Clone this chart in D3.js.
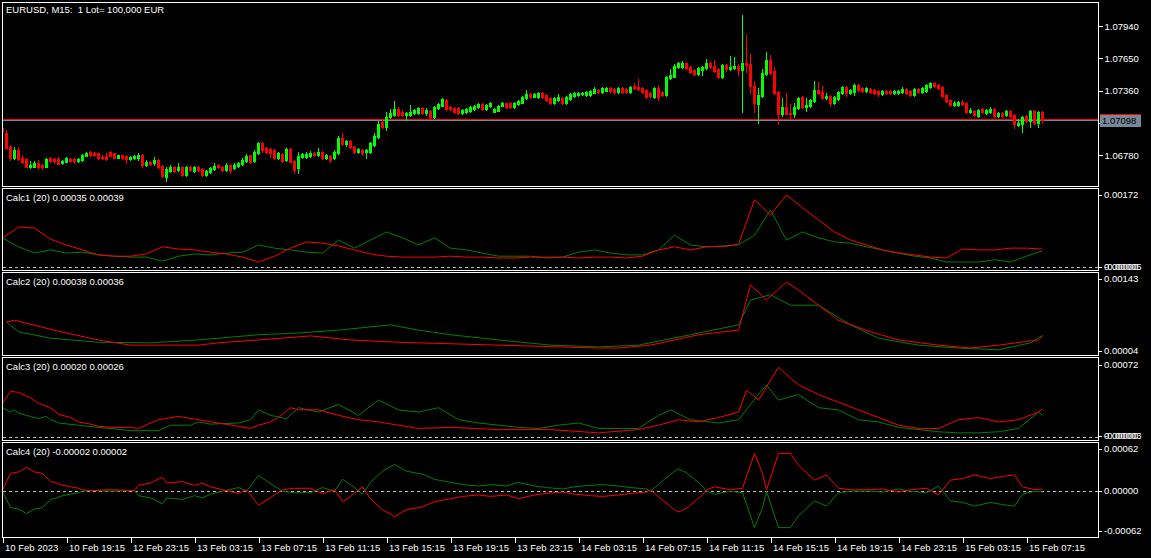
<!DOCTYPE html>
<html><head><meta charset="utf-8">
<script src="https://cdn.jsdelivr.net/npm/d3@7"></script>
<style>html,body{margin:0;padding:0;background:#000;overflow:hidden}svg{display:block}text{white-space:pre}</style>
</head><body>
<svg id="c" width="1151" height="558"></svg>
<script>
// ---------------- DATA ----------------
const chartTitle = "EURUSD, M15:  1 Lot= 100,000 EUR";
const timeTickIdx = [0,16,32,48,64,80,96,112,128,144,160,176,192,208,224,240,256];
const timeLabels = ["10 Feb 2023","10 Feb 19:15","12 Feb 23:15","13 Feb 03:15","13 Feb 07:15","13 Feb 11:15","13 Feb 15:15","13 Feb 19:15","13 Feb 23:15","14 Feb 03:15","14 Feb 07:15","14 Feb 11:15","14 Feb 15:15","14 Feb 19:15","14 Feb 23:15","15 Feb 03:15","15 Feb 07:15"];
const priceTicks = [1.06780,1.07070,1.07360,1.07650,1.07940];
const bidPrice = 1.07098, askPrice = 1.07108;

const opens = [
1.07025,1.06980,1.06854,1.06756,1.06828,1.06756,1.06747,1.06675,1.06675,1.06711,
1.06693,1.06675,1.06756,1.06747,1.06747,1.06711,1.06720,1.06747,1.06747,1.06729,
1.06738,1.06774,1.06810,1.06801,1.06801,1.06765,1.06774,1.06810,1.06801,1.06756,
1.06783,1.06774,1.06747,1.06756,1.06756,1.06783,1.06693,1.06720,1.06711,1.06738,
1.06684,1.06585,1.06639,1.06675,1.06648,1.06675,1.06603,1.06675,1.06639,1.06675,
1.06657,1.06603,1.06630,1.06657,1.06693,1.06675,1.06648,1.06693,1.06666,1.06684,
1.06702,1.06729,1.06783,1.06729,1.06801,1.06890,1.06845,1.06836,1.06828,1.06756,
1.06792,1.06738,1.06836,1.06729,1.06666,1.06765,1.06765,1.06774,1.06801,1.06783,
1.06810,1.06756,1.06774,1.06756,1.06801,1.06935,1.06881,1.06908,1.06854,1.06810,
1.06828,1.06810,1.06810,1.06872,1.06944,1.07079,1.07034,1.07124,1.07141,1.07195,
1.07168,1.07141,1.07141,1.07159,1.07159,1.07204,1.07159,1.07177,1.07124,1.07204,
1.07222,1.07276,1.07213,1.07204,1.07204,1.07159,1.07168,1.07177,1.07195,1.07213,
1.07240,1.07195,1.07222,1.07168,1.07177,1.07222,1.07249,1.07249,1.07213,1.07240,
1.07249,1.07294,1.07330,1.07303,1.07303,1.07339,1.07321,1.07294,1.07249,1.07276,
1.07294,1.07249,1.07285,1.07312,1.07321,1.07330,1.07321,1.07321,1.07339,1.07366,
1.07348,1.07357,1.07384,1.07375,1.07348,1.07384,1.07375,1.07348,1.07402,1.07393,
1.07384,1.07366,1.07339,1.07303,1.07384,1.07348,1.07321,1.07473,1.07482,1.07572,
1.07572,1.07608,1.07572,1.07545,1.07509,1.07545,1.07563,1.07608,1.07581,1.07554,
1.07482,1.07590,1.07554,1.07563,1.07581,1.07545,1.07608,1.07599,1.07402,1.07240,
1.07312,1.07509,1.07635,1.07536,1.07348,1.07150,1.07213,1.07159,1.07150,1.07204,
1.07303,1.07213,1.07222,1.07267,1.07366,1.07348,1.07294,1.07312,1.07249,1.07285,
1.07339,1.07393,1.07339,1.07348,1.07410,1.07384,1.07357,1.07375,1.07366,1.07357,
1.07330,1.07357,1.07357,1.07339,1.07339,1.07348,1.07375,1.07357,1.07321,1.07375,
1.07348,1.07357,1.07393,1.07428,1.07410,1.07393,1.07321,1.07276,1.07231,1.07231,
1.07258,1.07249,1.07168,1.07177,1.07132,1.07195,1.07159,1.07168,1.07195,1.07132,
1.07159,1.07141,1.07177,1.07141,1.07052,1.07061,1.07132,1.07088,1.07177,1.07070,
1.07168];
const highs = [
1.07034,1.07007,1.06872,1.06854,1.06854,1.06783,1.06756,1.06729,1.06729,1.06738,
1.06702,1.06756,1.06765,1.06756,1.06765,1.06738,1.06765,1.06756,1.06756,1.06756,
1.06792,1.06810,1.06819,1.06810,1.06801,1.06783,1.06801,1.06819,1.06801,1.06783,
1.06783,1.06783,1.06774,1.06783,1.06801,1.06792,1.06738,1.06729,1.06765,1.06747,
1.06693,1.06675,1.06693,1.06684,1.06711,1.06684,1.06684,1.06684,1.06684,1.06684,
1.06666,1.06648,1.06675,1.06711,1.06702,1.06684,1.06711,1.06702,1.06711,1.06720,
1.06756,1.06792,1.06783,1.06828,1.06899,1.06899,1.06854,1.06845,1.06836,1.06810,
1.06801,1.06845,1.06845,1.06738,1.06810,1.06801,1.06810,1.06819,1.06810,1.06845,
1.06819,1.06792,1.06783,1.06828,1.06953,1.06980,1.06917,1.06917,1.06863,1.06845,
1.06836,1.06836,1.06899,1.06980,1.07088,1.07097,1.07168,1.07195,1.07267,1.07213,
1.07186,1.07168,1.07231,1.07195,1.07213,1.07213,1.07204,1.07186,1.07222,1.07249,
1.07294,1.07285,1.07222,1.07213,1.07213,1.07195,1.07204,1.07222,1.07231,1.07249,
1.07249,1.07240,1.07258,1.07204,1.07231,1.07258,1.07249,1.07258,1.07258,1.07276,
1.07312,1.07366,1.07339,1.07339,1.07348,1.07348,1.07330,1.07303,1.07303,1.07330,
1.07303,1.07312,1.07339,1.07348,1.07348,1.07348,1.07357,1.07366,1.07393,1.07375,
1.07393,1.07393,1.07393,1.07384,1.07393,1.07393,1.07384,1.07402,1.07428,1.07464,
1.07393,1.07375,1.07348,1.07393,1.07410,1.07357,1.07491,1.07554,1.07599,1.07617,
1.07626,1.07617,1.07581,1.07554,1.07572,1.07581,1.07644,1.07626,1.07635,1.07563,
1.07599,1.07599,1.07671,1.07662,1.07599,1.08038,1.07859,1.07689,1.07446,1.07384,
1.07554,1.07707,1.07680,1.07572,1.07357,1.07294,1.07339,1.07240,1.07249,1.07303,
1.07312,1.07294,1.07285,1.07446,1.07437,1.07402,1.07339,1.07321,1.07312,1.07357,
1.07402,1.07402,1.07375,1.07419,1.07419,1.07393,1.07393,1.07384,1.07375,1.07366,
1.07366,1.07366,1.07366,1.07366,1.07366,1.07393,1.07384,1.07366,1.07384,1.07384,
1.07393,1.07419,1.07437,1.07437,1.07419,1.07402,1.07330,1.07285,1.07267,1.07267,
1.07276,1.07258,1.07204,1.07186,1.07195,1.07204,1.07195,1.07213,1.07204,1.07168,
1.07168,1.07186,1.07186,1.07150,1.07106,1.07132,1.07141,1.07186,1.07186,1.07177,
1.07177];
const lows = [
1.06971,1.06845,1.06738,1.06747,1.06738,1.06711,1.06675,1.06666,1.06675,1.06657,
1.06657,1.06675,1.06720,1.06711,1.06702,1.06702,1.06720,1.06720,1.06711,1.06720,
1.06729,1.06774,1.06774,1.06774,1.06747,1.06747,1.06738,1.06774,1.06756,1.06756,
1.06747,1.06711,1.06738,1.06747,1.06738,1.06675,1.06684,1.06693,1.06693,1.06666,
1.06585,1.06549,1.06630,1.06630,1.06639,1.06594,1.06594,1.06639,1.06630,1.06639,
1.06594,1.06594,1.06621,1.06648,1.06666,1.06639,1.06639,1.06621,1.06657,1.06675,
1.06693,1.06720,1.06711,1.06720,1.06792,1.06810,1.06801,1.06765,1.06747,1.06747,
1.06720,1.06729,1.06720,1.06621,1.06621,1.06756,1.06756,1.06765,1.06774,1.06774,
1.06747,1.06747,1.06720,1.06747,1.06792,1.06872,1.06863,1.06845,1.06801,1.06801,
1.06783,1.06756,1.06801,1.06863,1.06935,1.07025,1.07007,1.07115,1.07132,1.07132,
1.07132,1.07097,1.07132,1.07150,1.07150,1.07150,1.07141,1.07115,1.07115,1.07195,
1.07222,1.07186,1.07186,1.07159,1.07150,1.07150,1.07159,1.07168,1.07186,1.07204,
1.07186,1.07186,1.07213,1.07168,1.07177,1.07222,1.07204,1.07204,1.07204,1.07231,
1.07249,1.07285,1.07294,1.07303,1.07294,1.07294,1.07267,1.07240,1.07240,1.07267,
1.07240,1.07240,1.07276,1.07303,1.07312,1.07321,1.07312,1.07312,1.07339,1.07339,
1.07339,1.07357,1.07348,1.07339,1.07339,1.07339,1.07339,1.07339,1.07375,1.07366,
1.07339,1.07294,1.07303,1.07294,1.07276,1.07312,1.07312,1.07464,1.07482,1.07563,
1.07563,1.07554,1.07518,1.07500,1.07500,1.07500,1.07554,1.07563,1.07527,1.07473,
1.07473,1.07536,1.07545,1.07554,1.07500,1.07168,1.07527,1.07339,1.07168,1.07070,
1.07303,1.07500,1.07509,1.07330,1.07061,1.07132,1.07150,1.07115,1.07124,1.07195,
1.07204,1.07177,1.07213,1.07258,1.07330,1.07285,1.07285,1.07222,1.07240,1.07276,
1.07330,1.07312,1.07330,1.07321,1.07357,1.07348,1.07348,1.07339,1.07330,1.07312,
1.07321,1.07330,1.07330,1.07330,1.07330,1.07339,1.07330,1.07312,1.07312,1.07339,
1.07339,1.07348,1.07384,1.07393,1.07375,1.07303,1.07258,1.07222,1.07222,1.07222,
1.07231,1.07159,1.07159,1.07132,1.07124,1.07159,1.07150,1.07159,1.07124,1.07124,
1.07124,1.07132,1.07124,1.07025,1.07043,1.06989,1.07079,1.07034,1.07061,1.07034,
1.07070];
const closes = [
1.06998,1.06845,1.06756,1.06828,1.06747,1.06720,1.06675,1.06693,1.06711,1.06675,
1.06675,1.06747,1.06729,1.06729,1.06702,1.06729,1.06756,1.06729,1.06729,1.06747,
1.06783,1.06801,1.06783,1.06783,1.06756,1.06756,1.06747,1.06774,1.06756,1.06783,
1.06756,1.06747,1.06765,1.06774,1.06783,1.06693,1.06720,1.06702,1.06738,1.06675,
1.06594,1.06657,1.06675,1.06639,1.06675,1.06603,1.06675,1.06648,1.06675,1.06648,
1.06603,1.06639,1.06666,1.06684,1.06675,1.06648,1.06693,1.06648,1.06693,1.06711,
1.06738,1.06774,1.06720,1.06810,1.06890,1.06828,1.06810,1.06801,1.06756,1.06801,
1.06729,1.06836,1.06720,1.06648,1.06774,1.06792,1.06792,1.06801,1.06783,1.06810,
1.06756,1.06783,1.06738,1.06810,1.06935,1.06881,1.06908,1.06854,1.06810,1.06836,
1.06801,1.06828,1.06890,1.06953,1.07061,1.07034,1.07124,1.07159,1.07195,1.07141,
1.07141,1.07159,1.07168,1.07186,1.07204,1.07159,1.07186,1.07124,1.07213,1.07240,
1.07285,1.07195,1.07195,1.07168,1.07159,1.07186,1.07195,1.07213,1.07222,1.07240,
1.07195,1.07231,1.07249,1.07195,1.07222,1.07249,1.07213,1.07213,1.07249,1.07267,
1.07303,1.07330,1.07303,1.07330,1.07339,1.07303,1.07276,1.07249,1.07294,1.07303,
1.07249,1.07303,1.07330,1.07339,1.07339,1.07339,1.07348,1.07357,1.07375,1.07348,
1.07384,1.07384,1.07357,1.07348,1.07384,1.07348,1.07348,1.07393,1.07384,1.07375,
1.07348,1.07303,1.07312,1.07384,1.07303,1.07321,1.07482,1.07500,1.07581,1.07608,
1.07608,1.07563,1.07527,1.07509,1.07563,1.07572,1.07608,1.07572,1.07536,1.07482,
1.07590,1.07554,1.07572,1.07581,1.07545,1.07608,1.07590,1.07402,1.07249,1.07321,
1.07518,1.07635,1.07518,1.07339,1.07150,1.07213,1.07150,1.07150,1.07213,1.07294,
1.07213,1.07231,1.07276,1.07366,1.07339,1.07294,1.07312,1.07249,1.07303,1.07348,
1.07393,1.07339,1.07366,1.07410,1.07366,1.07357,1.07384,1.07348,1.07339,1.07330,
1.07357,1.07339,1.07339,1.07357,1.07357,1.07375,1.07339,1.07321,1.07375,1.07348,
1.07384,1.07410,1.07428,1.07402,1.07384,1.07312,1.07267,1.07231,1.07249,1.07258,
1.07240,1.07168,1.07186,1.07141,1.07186,1.07168,1.07186,1.07195,1.07132,1.07159,
1.07132,1.07177,1.07132,1.07061,1.07070,1.07124,1.07088,1.07177,1.07070,1.07168,
1.07098];

// Calc1 (sampled every 4 bars)
const calc1Idx = [0,4,8,12,16,20,24,28,32,36,40,44,48,52,56,60,64,68,72,76,80,84,88,92,96,100,104,108,112,116,120,124,128,132,136,140,144,148,152,156,160,164,168,172,176,180,184,188,192,196,200,204,208,212,216,220,224,228,232,236,240,244,248,252,256,260];
const calc1Red = [64e-5,88e-5,86e-5,61e-5,48e-5,37e-5,26e-5,23e-5,23e-5,28e-5,44e-5,39e-5,37e-5,32e-5,28e-5,21e-5,10e-5,23e-5,41e-5,55e-5,52e-5,46e-5,37e-5,28e-5,23e-5,21e-5,21e-5,21e-5,23e-5,21e-5,21e-5,19e-5,19e-5,21e-5,21e-5,21e-5,19e-5,21e-5,21e-5,19e-5,23e-5,37e-5,44e-5,37e-5,44e-5,44e-5,50e-5,149e-5,115e-5,160e-5,131e-5,104e-5,77e-5,59e-5,48e-5,37e-5,30e-5,26e-5,21e-5,19e-5,39e-5,37e-5,37e-5,41e-5,41e-5,39e-5];
const calc1Green = [64e-5,44e-5,30e-5,37e-5,30e-5,32e-5,26e-5,23e-5,21e-5,21e-5,12e-5,23e-5,28e-5,26e-5,30e-5,32e-5,48e-5,41e-5,37e-5,32e-5,30e-5,59e-5,41e-5,59e-5,77e-5,64e-5,48e-5,64e-5,41e-5,37e-5,30e-5,23e-5,23e-5,23e-5,19e-5,21e-5,32e-5,37e-5,30e-5,26e-5,26e-5,37e-5,70e-5,48e-5,44e-5,46e-5,48e-5,70e-5,126e-5,59e-5,77e-5,64e-5,55e-5,52e-5,44e-5,37e-5,30e-5,23e-5,19e-5,10e-5,10e-5,10e-5,15e-5,10e-5,23e-5,35e-5];

// Calc2
const calc2RedIdx = [1,3,14,24,32,49,54,64,77,87,99,124,149,154,162,174,184,187,191,196,199,204,209,217,224,234,242,249,259,260];
const calc2Red = [61e-5,64e-5,45e-5,30e-5,21e-5,21e-5,25e-5,30e-5,37e-5,30e-5,26e-5,21e-5,16e-5,16e-5,21e-5,39e-5,47e-5,125e-5,99e-5,130e-5,116e-5,90e-5,64e-5,44e-5,30e-5,21e-5,16e-5,21e-5,30e-5,36e-5];
const calc2GreenIdx = [1,4,12,24,37,49,64,74,84,97,104,112,124,137,149,159,172,184,187,192,197,204,212,219,229,239,249,257,260];
const calc2Green = [61e-5,44e-5,33e-5,26e-5,25e-5,30e-5,39e-5,42e-5,47e-5,56e-5,47e-5,39e-5,30e-5,21e-5,18e-5,21e-5,39e-5,56e-5,99e-5,108e-5,90e-5,90e-5,56e-5,33e-5,21e-5,16e-5,13e-5,25e-5,38e-5];

// Calc3
const calc3RedIdx = [0,2,4,7,9,12,14,17,19,22,24,27,32,34,37,39,44,49,54,59,62,64,67,69,72,74,79,84,89,94,99,104,112,124,137,149,159,164,169,174,179,184,186,189,194,197,199,204,209,214,219,224,229,234,239,244,249,254,259,260];
const calc3Red = [31e-5,42e-5,41e-5,36e-5,31e-5,27e-5,21e-5,18e-5,14e-5,12e-5,10e-5,9e-5,9e-5,8e-5,13e-5,16e-5,19e-5,16e-5,13e-5,10e-5,8e-5,11e-5,14e-5,18e-5,27e-5,25e-5,25e-5,20e-5,16e-5,14e-5,11e-5,8e-5,9e-5,7e-5,7e-5,4e-5,7e-5,11e-5,16e-5,14e-5,18e-5,23e-5,43e-5,34e-5,64e-5,54e-5,48e-5,39e-5,32e-5,25e-5,18e-5,11e-5,8e-5,8e-5,16e-5,18e-5,14e-5,16e-5,23e-5,26e-5];
const calc3GreenIdx = [0,2,3,4,7,9,11,12,14,19,24,27,32,39,42,47,49,52,59,62,64,67,71,74,79,84,89,94,99,104,109,114,119,124,129,134,139,144,149,159,164,167,172,179,184,187,191,194,199,204,209,214,219,224,229,234,239,244,249,254,259,260];
const calc3Green = [27e-5,23e-5,25e-5,22e-5,19e-5,17e-5,19e-5,16e-5,13e-5,11e-5,9e-5,8e-5,6e-5,6e-5,11e-5,11e-5,14e-5,12e-5,13e-5,16e-5,25e-5,20e-5,17e-5,27e-5,23e-5,30e-5,20e-5,34e-5,25e-5,23e-5,27e-5,16e-5,13e-5,11e-5,9e-5,8e-5,11e-5,13e-5,8e-5,8e-5,20e-5,25e-5,16e-5,13e-5,16e-5,30e-5,48e-5,34e-5,39e-5,27e-5,25e-5,16e-5,14e-5,9e-5,7e-5,5e-5,4e-5,4e-5,5e-5,8e-5,23e-5,20e-5];

// Calc4
const calc4Idx = [0,2,4,6,8,10,12,13,15,17,19,20,22,27,33,34,37,40,41,45,48,50,52,55,59,61,62,64,66,70,73,77,80,83,85,87,90,92,95,98,101,105,108,112,115,119,122,126,129,133,136,140,143,147,150,154,157,161,162,165,168,169,171,173,175,176,178,182,185,188,190,191,194,197,199,203,206,209,212,217,220,224,227,231,234,237,240,243,247,250,253,255,258,260];
const calc4Red = [1e-5,23e-5,25e-5,31e-5,25e-5,23e-5,12e-5,11e-5,7e-5,5e-5,3e-5,1e-5,0,1e-5,0,7e-5,10e-5,18e-5,10e-5,12e-5,7e-5,10e-5,5e-5,1e-5,-4e-5,1e-5,-6e-5,-20e-5,-13e-5,1e-5,3e-5,3e-5,-4e-5,1e-5,-15e-5,-8e-5,5e-5,-11e-5,-26e-5,-35e-5,-26e-5,-22e-5,-15e-5,-11e-5,-8e-5,-6e-5,-8e-5,-6e-5,-11e-5,-6e-5,-4e-5,-2e-5,-5e-5,-7e-5,-8e-5,-6e-5,-4e-5,-2e-5,1e-5,-13e-5,-26e-5,-29e-5,-24e-5,-15e-5,-6e-5,1e-5,5e-5,1e-5,3e-5,50e-5,23e-5,1e-5,50e-5,50e-5,34e-5,14e-5,21e-5,3e-5,1e-5,1e-5,2e-5,-2e-5,1e-5,3e-5,-6e-5,14e-5,16e-5,21e-5,16e-5,19e-5,21e-5,5e-5,1e-5,2e-5];
const calc4Green = [-1e-5,-23e-5,-25e-5,-31e-5,-25e-5,-23e-5,-12e-5,-11e-5,-7e-5,-5e-5,-3e-5,-1e-5,0,-1e-5,0,-7e-5,-10e-5,-18e-5,-10e-5,-12e-5,-7e-5,-10e-5,-5e-5,-1e-5,4e-5,-1e-5,6e-5,20e-5,13e-5,-1e-5,-3e-5,-3e-5,4e-5,-1e-5,15e-5,8e-5,-5e-5,11e-5,26e-5,35e-5,26e-5,22e-5,15e-5,11e-5,8e-5,6e-5,8e-5,6e-5,11e-5,6e-5,4e-5,2e-5,5e-5,7e-5,8e-5,6e-5,4e-5,2e-5,-1e-5,13e-5,26e-5,29e-5,24e-5,15e-5,6e-5,-1e-5,-5e-5,-1e-5,-3e-5,-50e-5,-23e-5,-1e-5,-50e-5,-50e-5,-34e-5,-14e-5,-21e-5,-3e-5,-1e-5,-1e-5,-2e-5,2e-5,-1e-5,-3e-5,6e-5,-14e-5,-16e-5,-21e-5,-16e-5,-19e-5,-21e-5,-5e-5,-1e-5,-2e-5];

const subTitles = ["Calc1 (20) 0.00035 0.00039","Calc2 (20) 0.00038 0.00036","Calc3 (20) 0.00020 0.00026","Calc4 (20) -0.00002 0.00002"];

// ---------------- DRAW ----------------
const FONT = '"Liberation Sans", Arial, sans-serif';
const FS = 9.5;
const svg = d3.select("#c");
svg.append("rect").attr("width",1151).attr("height",558).attr("fill","#000");
const L = 2.5, R = 1098.5;
const RED = "#ff0000", LIME = "#00ff00", LGREEN = "#008000";

const xBar = d3.scaleLinear().domain([0,256]).range([2,1026]);

const panels = {
  main:{top:2.5,bottom:186.5},
  c1:{top:188.5,bottom:270.5},
  c2:{top:272.5,bottom:355.5},
  c3:{top:357.5,bottom:440.5},
  c4:{top:442.5,bottom:537.5}
};
const defs = svg.append("defs");
Object.entries(panels).forEach(([k,p])=>{
  defs.append("clipPath").attr("id","clip-"+k).append("rect")
    .attr("x",L+0.5).attr("y",p.top+0.5).attr("width",R-L-1).attr("height",p.bottom-p.top-1);
});

const yMain = d3.scaleLinear().domain([1.0678,1.0794]).range([155.3,26]);
const y1 = d3.scaleLinear().domain([0,0.00172]).range([266.5,189.5]);
const y2 = d3.scaleLinear().domain([0.00004,0.00143]).range([355,274.5]);
const y3 = d3.scaleLinear().domain([-0.00003,0.00072]).range([440.5,358.5]);
const y4 = d3.scaleLinear().domain([-0.00062,0.00062]).range([536.5,444.5]);

// main: current price lines
const gMain = svg.append("g").attr("clip-path","url(#clip-main)").attr("shape-rendering","crispEdges");
gMain.append("line").attr("x1",L).attr("x2",R).attr("y1",Math.round(yMain(askPrice))+0.5).attr("y2",Math.round(yMain(askPrice))+0.5).attr("stroke",RED);
gMain.append("line").attr("x1",L).attr("x2",R).attr("y1",Math.round(yMain(bidPrice))+0.5).attr("y2",Math.round(yMain(bidPrice))+0.5).attr("stroke","#778899");

// candles
const bars = d3.range(opens.length).map(i=>({i,o:opens[i],h:highs[i],l:lows[i],c:closes[i]}));
const cg = gMain.selectAll("g.bar").data(bars).join("g").attr("class","bar");
cg.append("rect")
  .attr("x",d=>Math.round(xBar(d.i)))
  .attr("y",d=>Math.round(yMain(d.h)))
  .attr("width",1)
  .attr("height",d=>Math.max(1,Math.round(yMain(d.l))-Math.round(yMain(d.h))+1))
  .attr("fill",d=>d.c>=d.o?LIME:RED);
cg.append("rect")
  .attr("x",d=>Math.round(xBar(d.i))-1)
  .attr("y",d=>Math.round(yMain(Math.max(d.o,d.c))))
  .attr("width",3)
  .attr("height",d=>Math.max(1,Math.round(yMain(Math.min(d.o,d.c)))-Math.round(yMain(Math.max(d.o,d.c)))+1))
  .attr("fill",d=>d.c>=d.o?LIME:RED);

// indicator lines
function drawLine(clip, idx, vals, yS, color){
  const pts = idx.map((k,j)=>[xBar(k)+0.5, yS(vals[j])]);
  svg.append("path").attr("clip-path","url(#clip-"+clip+")")
    .attr("d", d3.line()(pts)).attr("fill","none").attr("stroke",color).attr("stroke-width",1);
}
function dashed(clip, yS, v){
  const yy = Math.round(yS(v))+0.5;
  svg.append("line").attr("clip-path","url(#clip-"+clip+")").attr("x1",L).attr("x2",R).attr("y1",yy).attr("y2",yy)
    .attr("stroke","#c0c0c0").attr("stroke-dasharray","3,3").attr("shape-rendering","crispEdges");
}
dashed("c1",y1,0); dashed("c3",y3,0); dashed("c4",y4,0);
drawLine("c1",calc1Idx,calc1Green,y1,LGREEN);
drawLine("c1",calc1Idx,calc1Red,y1,RED);
drawLine("c2",calc2GreenIdx,calc2Green,y2,LGREEN);
drawLine("c2",calc2RedIdx,calc2Red,y2,RED);
drawLine("c3",calc3GreenIdx,calc3Green,y3,LGREEN);
drawLine("c3",calc3RedIdx,calc3Red,y3,RED);
drawLine("c4",calc4Idx,calc4Green,y4,LGREEN);
drawLine("c4",calc4Idx,calc4Red,y4,RED);

// frames
Object.values(panels).forEach(p=>{
  svg.append("rect").attr("x",L).attr("y",p.top).attr("width",R-L).attr("height",p.bottom-p.top)
    .attr("fill","none").attr("stroke","#fff").attr("shape-rendering","crispEdges");
});

// price axis
const ax = svg.append("g").attr("transform",`translate(${R},0)`)
  .call(d3.axisRight(yMain).tickValues(priceTicks).tickFormat(d3.format(".5f")).tickSize(4).tickPadding(2));
ax.select(".domain").remove();
ax.selectAll("line").attr("stroke","#fff").attr("shape-rendering","crispEdges");
ax.selectAll("text").attr("fill","#fff").attr("font-family",FONT).attr("font-size",FS);

// current price box
const by = Math.round(yMain(bidPrice));
svg.append("rect").attr("x",1100).attr("y",by-5).attr("width",41).attr("height",12).attr("fill","#778899");
svg.append("line").attr("x1",1100).attr("x2",1141).attr("y1",by-5.5).attr("y2",by-5.5).attr("stroke",RED).attr("shape-rendering","crispEdges");
svg.append("text").attr("x",1102).attr("y",by+1).attr("dy","0.35em").attr("fill","#000")
  .attr("font-family",FONT).attr("font-size",FS).text(d3.format(".5f")(bidPrice));

// sub panel value labels
function sideLabel(txt, yy){
  svg.append("line").attr("x1",R).attr("x2",R+3).attr("y1",Math.round(yy)+0.5).attr("y2",Math.round(yy)+0.5).attr("stroke","#fff").attr("shape-rendering","crispEdges");
  svg.append("text").attr("x",1104).attr("y",yy).attr("dy","0.35em").attr("fill","#fff")
    .attr("font-family",FONT).attr("font-size",FS).text(txt);
}
const f5 = d3.format(".5f");
sideLabel(f5(y1.domain()[1]), panels.c1.top+6);
sideLabel("0.00000", y1(0)); sideLabel("-0.00005", y1(0));
sideLabel(f5(y2.domain()[1]), panels.c2.top+6.5);
sideLabel(f5(y2.domain()[0]), panels.c2.bottom-4.5);
sideLabel(f5(y3.domain()[1]), panels.c3.top+7);
sideLabel("0.00000", y3(0)-1.5); sideLabel(f5(y3.domain()[0]).replace("−","-"), y3(0)-1.5);
sideLabel(f5(y4.domain()[1]), panels.c4.top+6.5);
sideLabel("0.00000", y4(0));
sideLabel(f5(y4.domain()[0]).replace("−","-"), panels.c4.bottom-7);

// titles
svg.append("text").attr("x",6).attr("y",9.5).attr("dy","0.35em").attr("fill","#fff").attr("font-family",FONT).attr("font-size",FS).text(chartTitle);
[panels.c1,panels.c2,panels.c3,panels.c4].forEach((p,j)=>{
  svg.append("text").attr("x",6).attr("y",p.top+9.5).attr("dy","0.35em").attr("fill","#fff").attr("font-family",FONT).attr("font-size",FS).text(subTitles[j]);
});

// time axis
const tx = svg.append("g").attr("transform",`translate(0.5,${panels.c4.bottom})`)
  .call(d3.axisBottom(xBar).tickValues(timeTickIdx).tickFormat((d,j)=>timeLabels[j]).tickSize(5).tickPadding(2));
tx.select(".domain").remove();
tx.selectAll("line").attr("stroke","#fff").attr("shape-rendering","crispEdges");
tx.selectAll("text").attr("fill","#fff").attr("font-family",FONT).attr("font-size",FS).attr("text-anchor","start").attr("dx",2);
</script>
</body></html>
